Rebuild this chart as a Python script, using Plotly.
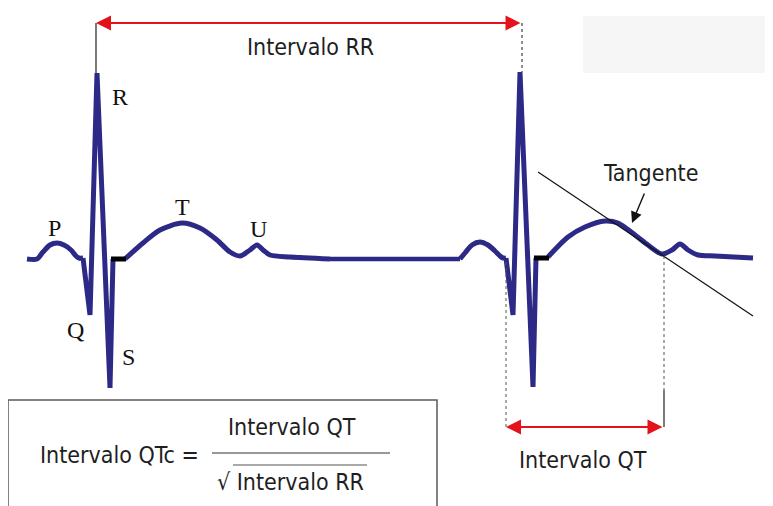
import plotly.graph_objects as go

# ---------------- data (pixel-space coordinates) ----------------
# Beat 1
p1_x = [27, 37, 43, 50, 57, 64, 71, 76, 79, 83]
p1_y = [259, 259, 252, 245, 243, 245, 250, 256, 258, 258]
qrs1_x = [83, 90, 97, 110, 113]
qrs1_y = [258, 315, 73, 388, 259]
j1_x = [111, 126]
j1_y = [259, 259]
tu1_x = [125, 143, 160, 182, 200, 217, 230, 240, 250, 257, 263, 270, 290, 330]
tu1_y = [259, 243, 230, 223, 228, 240, 252, 256, 250, 245, 250, 255, 257, 259]
# Isoelectric line
base_x = [330, 460]
base_y = [259, 259]
# Beat 2
p2_x = [460, 465, 472, 480, 488, 495, 500, 503, 506]
p2_y = [259, 253, 245, 242, 245, 251, 256, 258, 258]
qrs2_x = [506, 513, 520, 533, 536]
qrs2_y = [258, 315, 72, 387, 258]
j2_x = [534, 549]
j2_y = [258, 258]
tu2_x = [548, 568, 585, 605, 618, 635, 648, 662, 672, 680, 688, 698, 715, 753]
tu2_y = [257, 237, 227, 221, 223, 235, 245, 254, 250, 244, 250, 255, 256, 258]

# Tangent line
tangent_x = [538, 753]
tangent_y = [172, 316]

# Wave labels
wave_labels = ["P", "Q", "R", "S", "T", "U"]
wave_label_x = [54, 75, 120, 128, 182, 258]
wave_label_y = [228, 330, 97, 357, 207, 229]

# Interval arrows
rr_x = [96, 522]
rr_y = 23
qt_x = [506, 664]
qt_y = 427

# Text labels
text_labels = ["Intervalo RR", "Intervalo QT", "Tangente"]
text_x = [310, 583, 650]
text_y = [47, 460, 173]

# Formula
formula_lhs = "Intervalo QTc ="
formula_num = "Intervalo QT"
formula_den = "√ Intervalo RR"

# ---------------- figure ----------------
ECG = "#2c2a86"
RED = "#e3121b"
SANS = "DejaVu Sans Condensed, Liberation Sans, Arial, sans-serif"
SERIF = "Liberation Serif, Times New Roman, serif"
TXT = "#1e1e1e"
PAGE_OFFSET = 8  # default body margin of the html page

fig = go.Figure()

def add_line(x, y, color=ECG, width=5, shape="linear", smoothing=1.0):
    fig.add_trace(go.Scatter(x=x, y=y, mode="lines",
                             line=dict(color=color, width=width, shape=shape,
                                       smoothing=smoothing),
                             hoverinfo="skip", showlegend=False))

add_line(base_x, base_y, width=4.5)
add_line(p1_x, p1_y, shape="spline", smoothing=0.8)
add_line(tu1_x, tu1_y, shape="spline", smoothing=0.8)
add_line(p2_x, p2_y, shape="spline", smoothing=0.8)
add_line(tu2_x, tu2_y, shape="spline", smoothing=0.8)
add_line(qrs1_x, qrs1_y)
add_line(qrs2_x, qrs2_y)
add_line(j1_x, j1_y, color="#000000", width=5)
add_line(j2_x, j2_y, color="#000000", width=5)
add_line(tangent_x, tangent_y, color="#111111", width=1.2)

shapes = []
# top-right light grey box
shapes.append(dict(type="rect", x0=583, x1=773, y0=16, y1=73,
                   fillcolor="#f6f6f6", line=dict(width=0), layer="below"))
# vertical guide lines for RR
shapes.append(dict(type="line", x0=rr_x[0], x1=rr_x[0], y0=rr_y, y1=qrs1_y[2],
                   line=dict(color="#222222", width=1.2)))
shapes.append(dict(type="line", x0=rr_x[1], x1=rr_x[1], y0=rr_y, y1=qrs2_y[2],
                   line=dict(color="#444444", width=1.2, dash="dot")))
# vertical guide lines for QT
shapes.append(dict(type="line", x0=qt_x[0], x1=qt_x[0], y0=262, y1=qt_y,
                   line=dict(color="#555555", width=1, dash="dot")))
shapes.append(dict(type="line", x0=qt_x[1], x1=qt_x[1], y0=256, y1=390,
                   line=dict(color="#555555", width=1, dash="dot")))
shapes.append(dict(type="line", x0=qt_x[1], x1=qt_x[1], y0=390, y1=qt_y,
                   line=dict(color="#222222", width=1.2)))
# formula box
shapes.append(dict(type="rect", x0=8, x1=437, y0=400, y1=520,
                   line=dict(color="#5a5a5a", width=1.5), fillcolor="rgba(0,0,0,0)"))
# fraction bar and radical overline
shapes.append(dict(type="line", x0=212, x1=390, y0=453, y1=453,
                   line=dict(color="#333333", width=1.2)))
shapes.append(dict(type="line", x0=233, x1=367, y0=465, y1=465,
                   line=dict(color="#555555", width=1.2)))

annotations = []
# RR double arrow
annotations.append(dict(x=rr_x[0], y=rr_y, ax=rr_x[1], ay=rr_y, xref="x", yref="y",
                        axref="x", ayref="y", text="", showarrow=True,
                        arrowhead=2, arrowside="end+start", arrowsize=1.5,
                        arrowwidth=2, arrowcolor=RED, standoff=0, startstandoff=0))
# QT double arrow
annotations.append(dict(x=qt_x[0], y=qt_y, ax=qt_x[1], ay=qt_y, xref="x", yref="y",
                        axref="x", ayref="y", text="", showarrow=True,
                        arrowhead=2, arrowside="end+start", arrowsize=1.5,
                        arrowwidth=2, arrowcolor=RED, standoff=0, startstandoff=0))
# Tangente arrow
annotations.append(dict(x=632, y=223, ax=645, ay=192, xref="x", yref="y",
                        axref="x", ayref="y", text="", showarrow=True,
                        arrowhead=2, arrowsize=1.6, arrowwidth=1.4,
                        arrowcolor="#111111", standoff=0))
# wave letters
for lab, x, y in zip(wave_labels, wave_label_x, wave_label_y):
    annotations.append(dict(x=x, y=y, text=lab, showarrow=False, xref="x", yref="y",
                            font=dict(family=SERIF, size=24, color="#111111")))
# sans labels
for lab, x, y in zip(text_labels, text_x, text_y):
    annotations.append(dict(x=x, y=y, text=lab, showarrow=False, xref="x", yref="y",
                            font=dict(family=SANS, size=23, color=TXT)))
# formula
annotations.append(dict(x=38, y=455, text=formula_lhs, showarrow=False, xref="x",
                        yref="y", xanchor="left",
                        font=dict(family=SANS, size=23, color=TXT)))
annotations.append(dict(x=292, y=427, text=formula_num, showarrow=False, xref="x",
                        yref="y", font=dict(family=SANS, size=23, color=TXT)))
annotations.append(dict(x=290, y=482, text=formula_den, showarrow=False, xref="x",
                        yref="y", font=dict(family=SANS, size=23, color=TXT)))

fig.update_layout(
    width=773 - PAGE_OFFSET, height=506 - PAGE_OFFSET,
    margin=dict(l=0, r=0, t=0, b=0),
    paper_bgcolor="white", plot_bgcolor="white",
    xaxis=dict(range=[PAGE_OFFSET, 773], visible=False, fixedrange=True),
    yaxis=dict(range=[506, PAGE_OFFSET], visible=False, fixedrange=True),
    shapes=shapes, annotations=annotations,
    showlegend=False,
)

fig.write_html("out.html")
